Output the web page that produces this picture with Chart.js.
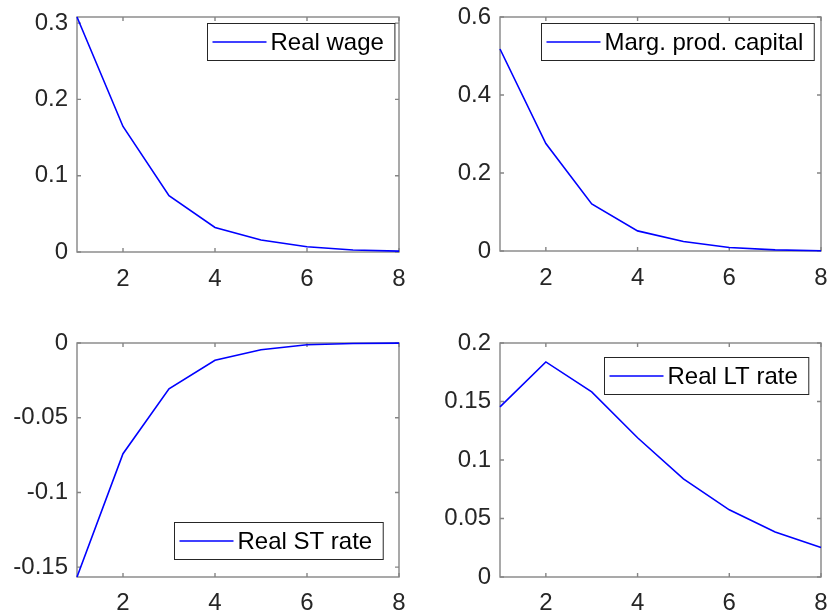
<!DOCTYPE html>
<html>
<head>
<meta charset="utf-8">
<script src="https://cdn.jsdelivr.net/npm/chart.js@4/dist/chart.umd.min.js"></script>
<style>
  html, body { margin: 0; padding: 0; background: #ffffff; }
  #fig { position: relative; width: 828px; height: 614px; overflow: hidden; background: #ffffff; }
  #fig canvas { position: absolute; }
</style>
</head>
<body>
<div id="fig">
  <canvas id="wage" style="left:0;top:0;width:414px;height:300px" width="414" height="300"></canvas>
  <canvas id="mpk" style="left:414px;top:0;width:414px;height:300px" width="414" height="300"></canvas>
  <canvas id="st" style="left:0;top:300px;width:414px;height:314px" width="414" height="314"></canvas>
  <canvas id="lt" style="left:414px;top:300px;width:414px;height:314px" width="414" height="314"></canvas>
</div>
<script>
// Impulse responses, periods 1..8
const periods = [1, 2, 3, 4, 5, 6, 7, 8];
const realWage = [0.308, 0.1645, 0.0737, 0.0322, 0.0158, 0.0068, 0.0027, 0.0012];
const margProdCapital = [0.518, 0.2755, 0.1205, 0.0516, 0.0243, 0.0090, 0.0028, 0.0006];
const realSTRate = [-0.1566, -0.0741, -0.0306, -0.0116, -0.0045, -0.0012, -0.0003, -0.0001];
const realLTRate = [0.1454, 0.1838, 0.1582, 0.1190, 0.0838, 0.0574, 0.0384, 0.0252];

// Axis ticks and limits
const xTicks = [2, 4, 6, 8];
const xLimits = [1, 8];
const wageTicks = [0, 0.1, 0.2, 0.3];
const wageLimits = [0, 0.308];
const mpkTicks = [0, 0.2, 0.4, 0.6];
const mpkLimits = [0, 0.6];
const stTicks = [-0.15, -0.1, -0.05, 0];
const stLimits = [-0.1566, 0];
const ltTicks = [0, 0.05, 0.1, 0.15, 0.2];
const ltLimits = [0, 0.2];

const FONT_FAMILY = '"Liberation Sans", Arial, Helvetica, sans-serif';
const FONT_SIZE = 24;
const TEXT_COLOR = '#262626';

// Boxed axes with inward tick marks on all four sides, plus an inset legend
const boxedAxes = {
  id: 'boxedAxes',
  beforeDatasetsDraw(chart, args, o) {
    const { ctx, chartArea: a, scales: { x, y } } = chart;
    ctx.save();
    ctx.strokeStyle = o.axisColor;
    ctx.lineWidth = o.axisWidth;
    ctx.beginPath();
    x.ticks.forEach(t => {
      const px = x.getPixelForValue(t.value);
      ctx.moveTo(px, a.bottom); ctx.lineTo(px, a.bottom - o.tickLen);
      ctx.moveTo(px, a.top); ctx.lineTo(px, a.top + o.tickLen);
    });
    y.ticks.forEach(t => {
      const py = y.getPixelForValue(t.value);
      ctx.moveTo(a.left, py); ctx.lineTo(a.left + o.tickLen, py);
      ctx.moveTo(a.right, py); ctx.lineTo(a.right - o.tickLen, py);
    });
    ctx.stroke();
    ctx.strokeRect(a.left, a.top, a.right - a.left, a.bottom - a.top);
    ctx.restore();
  },
  afterDatasetsDraw(chart, args, o) {
    const { ctx, chartArea: a } = chart;
    const ds = chart.data.datasets[0];
    const lg = o.legend;
    ctx.save();
    ctx.font = FONT_SIZE + 'px ' + FONT_FAMILY;
    const tw = ctx.measureText(ds.label).width;
    const w = lg.padL + lg.sample + lg.gap + tw + lg.padR;
    const h = lg.height;
    const bx = Math.round(a.right - lg.insetX - w) + 0.5;
    const by = Math.round(lg.corner === 'ne' ? a.top + lg.insetY : a.bottom - lg.insetY - h) + 0.5;
    ctx.fillStyle = '#ffffff';
    ctx.fillRect(bx, by, w, h);
    ctx.strokeStyle = '#262626';
    ctx.lineWidth = 1;
    ctx.strokeRect(bx, by, w, h);
    const cy = by + h / 2;
    ctx.strokeStyle = ds.borderColor;
    ctx.lineWidth = ds.borderWidth;
    ctx.beginPath();
    ctx.moveTo(bx + lg.padL, cy);
    ctx.lineTo(bx + lg.padL + lg.sample, cy);
    ctx.stroke();
    ctx.fillStyle = '#000000';
    ctx.textAlign = 'left';
    ctx.textBaseline = 'middle';
    ctx.fillText(ds.label, bx + lg.padL + lg.sample + lg.gap, cy + 1);
    ctx.restore();
  }
};

// Keep the plot frame fixed: axis boxes take a set size and add no extra edge padding
function fixScale(size, isX) {
  return s => {
    if (isX) s.height = size; else s.width = size;
    s.paddingTop = 0; s.paddingBottom = 0; s.paddingLeft = 0; s.paddingRight = 0;
  };
}

function makePanel(canvasId, label, values, yTicks, yLimits, frame, legend) {
  const points = periods.map((p, i) => ({ x: p, y: values[i] }));
  return new Chart(document.getElementById(canvasId), {
    type: 'line',
    data: {
      datasets: [{
        label: label,
        data: points,
        borderColor: '#0000ff',
        borderWidth: 1.6,
        pointRadius: 0,
        tension: 0,
        fill: false,
        clip: 2
      }]
    },
    options: {
      responsive: false,
      animation: false,
      events: [],
      layout: { padding: { left: 0, right: frame.right, top: frame.top, bottom: 0 } },
      plugins: {
        legend: { display: false },
        tooltip: { enabled: false },
        boxedAxes: {
          axisColor: '#858585',
          axisWidth: 1.4,
          tickLen: 4,
          legend: legend
        }
      },
      scales: {
        x: {
          type: 'linear',
          min: xLimits[0],
          max: xLimits[1],
          grid: { display: false, drawTicks: false },
          border: { display: false },
          afterBuildTicks: s => { s.ticks = xTicks.map(v => ({ value: v })); },
          afterFit: fixScale(frame.xAxisHeight, true),
          ticks: {
            padding: frame.xPad,
            maxRotation: 0,
            autoSkip: false,
            color: TEXT_COLOR,
            font: { family: FONT_FAMILY, size: FONT_SIZE },
            callback: v => String(v)
          }
        },
        y: {
          type: 'linear',
          min: yLimits[0],
          max: yLimits[1],
          grid: { display: false, drawTicks: false },
          border: { display: false },
          afterBuildTicks: s => { s.ticks = yTicks.map(v => ({ value: v })); },
          afterFit: fixScale(frame.yAxisWidth, false),
          ticks: {
            padding: 9,
            autoSkip: false,
            color: TEXT_COLOR,
            font: { family: FONT_FAMILY, size: FONT_SIZE },
            callback: v => String(v)
          }
        }
      }
    },
    plugins: [boxedAxes]
  });
}

const legendBase = { height: 37, padL: 5, sample: 54, gap: 4, padR: 11 };

makePanel('wage', 'Real wage', realWage, wageTicks, wageLimits,
  { top: 17, right: 15, yAxisWidth: 77, xAxisHeight: 48, xPad: 13 },
  Object.assign({ corner: 'ne', insetX: 5, insetY: 6 }, legendBase));

makePanel('mpk', 'Marg. prod. capital', margProdCapital, mpkTicks, mpkLimits,
  { top: 17, right: 7, yAxisWidth: 86, xAxisHeight: 49, xPad: 13 },
  Object.assign({ corner: 'ne', insetX: 7, insetY: 6 }, legendBase));

makePanel('st', 'Real ST rate', realSTRate, stTicks, stLimits,
  { top: 43, right: 15, yAxisWidth: 77, xAxisHeight: 37, xPad: 12 },
  Object.assign({ corner: 'se', insetX: 16, insetY: 18 }, legendBase));

makePanel('lt', 'Real LT rate', realLTRate, ltTicks, ltLimits,
  { top: 43, right: 7, yAxisWidth: 86, xAxisHeight: 37, xPad: 12 },
  Object.assign({ corner: 'ne', insetX: 13, insetY: 14 }, legendBase));
</script>
</body>
</html>
